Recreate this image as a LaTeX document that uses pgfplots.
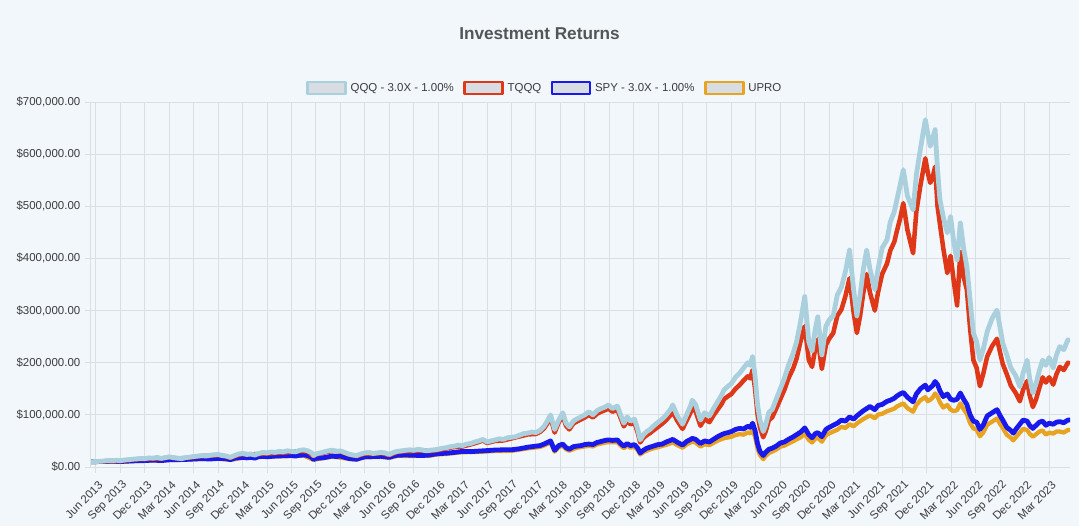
\documentclass[border=0pt]{standalone}
\usepackage{fontspec}
\setmainfont{Liberation Sans}
\usepackage{pgfplots}
\pgfplotsset{compat=1.18}
\definecolor{bgcol}{RGB}{242,247,252}
\definecolor{gridcol}{RGB}{218,223,229}
\definecolor{legfill}{RGB}{216,221,227}
\definecolor{labcol}{RGB}{60,60,60}
\definecolor{titlecol}{RGB}{85,85,85}
\definecolor{qqqcol}{RGB}{170,208,222}
\definecolor{tqqqcol}{RGB}{222,56,24}
\definecolor{spycol}{RGB}{25,25,235}
\definecolor{uprocol}{RGB}{232,163,32}
\begin{document}
\begin{tikzpicture}
\fill[bgcol] (-68.25pt,-44.25pt) rectangle (741pt,350.25pt);
\begin{axis}[
  at={(0,0)}, anchor=south west,
  scale only axis, width=734.25pt, height=273.75pt,
  xmin=4.39, xmax=124.56, ymin=0, ymax=700,
  axis x line*=bottom, axis y line*=left,
  axis line style={draw=gridcol, line width=0.75pt},
  grid=major, grid style={draw=gridcol, line width=0.75pt},
  tick align=outside, major tick length=4.5pt,
  tick style={draw=gridcol, line width=0.75pt},
  xtick={5,8,...,122},
  xticklabels={Jun 2013,Sep 2013,Dec 2013,Mar 2014,Jun 2014,Sep 2014,Dec 2014,Mar 2015,Jun 2015,Sep 2015,Dec 2015,Mar 2016,Jun 2016,Sep 2016,Dec 2016,Mar 2017,Jun 2017,Sep 2017,Dec 2017,Mar 2018,Jun 2018,Sep 2018,Dec 2018,Mar 2019,Jun 2019,Sep 2019,Dec 2019,Mar 2020,Jun 2020,Sep 2020,Dec 2020,Mar 2021,Jun 2021,Sep 2021,Dec 2021,Mar 2022,Jun 2022,Sep 2022,Dec 2022,Mar 2023},
  ytick={0,100,...,700},
  yticklabels={\$0.00,\$100{,}000.00,\$200{,}000.00,\$300{,}000.00,\$400{,}000.00,\$500{,}000.00,\$600{,}000.00,\$700{,}000.00},
  xticklabel style={rotate=45, anchor=east, xshift=0.5pt, yshift=-8pt, font=\fontsize{8.6}{10}\selectfont, text=labcol},
  yticklabel style={font=\fontsize{8.6}{10}\selectfont, text=labcol},
  legend columns=4, reverse legend,
  legend style={at={(0.4645,1.038)}, anchor=center, draw=none, fill=none,
    font=\fontsize{8.6}{10}\selectfont, text=labcol,
    nodes={inner sep=2.7pt},
    /tikz/every even column/.append style={column sep=4.5pt}},
  legend image code/.code={\draw[#1,line width=1.9pt,fill=legfill] (0pt,-4.5pt) rectangle (28.5pt,4.5pt);},
  every axis plot/.append style={line join=round, mark=none},
]
% UPRO
\addplot[uprocol, line width=3.2pt] coordinates {
(4.4,9.8) (6,10.3) (8,10.2) (10,11.6) (12,12.8) (14,13.4) (16,14) (18,15.5) (20,16) (21.5,13.6) (23,17.8) (25,19.3) (27,20.2) (29,21.1) (30.5,22) (31.7,13.7) (33,17.2) (34,20) (36,15.7) (37,14.2) (38,18.6) (40,19.5) (41,17.5) (42,21.4) (44,21.3) (46,21.8) (47,24.2) (48,25.1) (50,28.4) (52,28.9) (54,30.7) (56,31) (58,35.7) (59.5,38.5) (60,41.3) (60.8,46.8) (61.3,29.5) (61.8,38) (62.3,40.7) (62.7,34) (63.1,31.2) (64,36.8) (65,39.5) (65.5,40.4) (66,39.5) (66.5,43.2) (67.5,46.8) (67.9,47.6) (69,47.6) (69.4,41) (69.8,36.3) (70.2,40.8) (70.6,37.1) (71.1,38.8) (71.5,32.3) (71.8,24) (72.2,28.6) (73,33.9) (74,38.2) (75,42.5) (75.8,47) (76.3,42.5) (77,36.9) (77.5,43.3) (78.2,48.5) (78.6,46.8) (79.2,39.3) (79.7,43.7) (80.3,42) (80.8,46.2) (81.3,50.5) (82.1,55.3) (83,58) (83.5,61.2) (84,63) (84.5,62) (85,66.3) (85.3,64.6) (85.6,70) (85.9,58) (86.2,36) (86.5,23) (86.9,15) (87.2,21) (87.6,27) (88,29.5) (88.5,33.5) (89,39) (89.5,41) (90,45) (90.6,49.5) (91,53) (91.5,57) (92,64) (92.5,52) (92.9,47) (93.3,54.5) (93.6,56) (94.1,48.5) (94.6,61) (95,64.5) (95.5,68) (96,71.5) (96.5,77) (97,75) (97.5,82) (98,78) (98.4,83.5) (98.8,88) (99.2,92) (99.6,95.5) (100,99) (100.6,93.5) (101,100.5) (101.5,102) (102.1,107) (102.5,109) (103,112) (103.3,116) (103.7,119) (104.1,122) (104.6,113) (105.3,106) (105.7,119) (106.2,128) (106.8,134) (107.1,126) (107.4,129) (107.7,133) (108,141) (108.3,135) (108.6,124) (109,114) (109.5,119) (109.9,110) (110.3,107) (110.7,109) (111.1,122) (111.5,111) (111.9,102) (112.3,84) (112.7,74) (113.1,72) (113.5,59) (113.9,66) (114.4,81) (115,87) (115.6,93) (116,82) (116.3,75) (116.8,62) (117.3,56) (117.6,51) (117.9,57) (118.4,66) (118.8,73) (119.3,71) (119.6,64) (120,58) (120.4,63) (120.8,68) (121.2,70) (121.6,62) (122,66) (122.5,64) (122.9,68) (123.3,68) (123.8,66) (124.3,71) (124.56,71)
};
\addlegendentry{UPRO}
% SPY - 3.0X - 1.00%
\addplot[spycol, line width=3.6pt] coordinates {
(4.4,10) (5,10.3) (6,10.6) (7,11.2) (8,10.5) (9,11.3) (10,12) (11,12.3) (12,13.2) (13,12.3) (14,13.8) (15,14) (16,14.5) (17,15.3) (18,16) (19,15.3) (20,16.5) (21,15.8) (21.5,14.2) (22,16.8) (23,18.5) (23.5,17.5) (24,18.6) (24.5,17) (25,20) (25.5,20.5) (26,19.5) (27,21) (28,21.5) (29,22) (29.5,21) (30,22.5) (30.5,23) (31,22) (31.5,18) (31.7,14.5) (32,16.5) (33,18) (34,21) (34.5,20) (35,21) (35.5,18.5) (36,16.5) (36.5,15.5) (37,15) (37.5,17.5) (38,19.5) (39,20) (40,20.5) (41,18.5) (41.5,21) (42,22.5) (43,23) (44,22.5) (45,22) (46,23) (46.5,24.5) (47,25.5) (48,26.5) (49,28) (50,30) (51,29.5) (52,30.5) (53,31.5) (54,32.5) (55,33) (56,33) (57,35) (58,38) (59,40) (59.5,41) (60,44) (60.8,50) (61.3,32) (61.8,41) (62.3,44) (62.7,37) (63.1,34) (63.6,39) (64,40) (64.5,41) (65,43) (65.5,44) (66,43) (66.5,47) (67,49) (67.5,51) (67.9,52) (68.4,51) (69,52) (69.4,45) (69.8,40) (70.2,45) (70.6,41) (71.1,43) (71.5,36) (71.8,27) (72.2,32) (72.6,36) (73,38) (73.4,40) (74,43) (74.5,44) (75,48) (75.5,51) (75.8,53) (76.3,48) (77,42) (77.5,49) (78,53) (78.2,55) (78.6,53) (79.2,45) (79.7,50) (80.3,48) (80.8,53) (81.3,58) (81.8,62) (82.1,64) (82.6,66) (83,68) (83.5,72) (84,74) (84.5,73) (85,78) (85.3,76) (85.6,84) (85.9,70) (86.2,45) (86.5,30) (86.9,22) (87.2,28) (87.6,34) (88,36) (88.5,40) (89,46) (89.5,48) (90,53) (90.6,58) (91,62) (91.5,67) (92,75) (92.5,62) (92.9,56) (93.3,64) (93.6,66) (94.1,58) (94.6,72) (95,76) (95.5,80) (96,84) (96.5,90) (97,88) (97.5,96) (98,92) (98.4,98) (98.8,103) (99.2,108) (99.6,112) (100,116) (100.6,110) (101,118) (101.5,120) (102.1,126) (102.5,128) (103,132) (103.3,136) (103.7,140) (104.1,143) (104.6,134) (105.3,125) (105.7,140) (106.2,150) (106.8,157) (107.1,148) (107.4,152) (107.7,156) (108,164) (108.3,158) (108.6,146) (109,135) (109.5,140) (109.9,130) (110.3,128) (110.7,130) (111.1,142) (111.5,130) (111.9,120) (112.3,100) (112.7,88) (113.1,86) (113.5,72) (113.9,80) (114.4,98) (115,104) (115.6,110) (116,98) (116.3,90) (116.8,76) (117.3,70) (117.6,65) (117.9,72) (118.4,82) (118.8,90) (119.3,88) (119.6,80) (120,74) (120.4,80) (120.8,86) (121.2,88) (121.6,80) (122,84) (122.5,82) (122.9,86) (123.3,87) (123.8,85) (124.3,90) (124.56,90)
};
\addlegendentry{SPY - 3.0X - 1.00\%}
% TQQQ
\addplot[tqqqcol, line width=3.4pt] coordinates {
(4.4,9.8) (5,10.1) (6,11) (7,11.5) (8,11.5) (9,13.4) (10,14.9) (11,15.4) (12,16.3) (13,15.8) (14,18.7) (15,16.3) (16,17.3) (17,19.2) (18,21.1) (19,21.6) (20,23) (21,20.2) (21.5,17.8) (22,21.1) (23,25) (24,24) (25,25) (26,25.9) (27,26.9) (28,27.8) (29,28.8) (30,30.7) (31,29.8) (31.7,21) (32,24) (33,27.8) (34,30.7) (35,29.8) (36,24) (37,21.1) (38,25.9) (39,25) (40,26.9) (41,23) (42,28.8) (43,30.7) (44,30.7) (45,31.7) (46,30.7) (47,32.6) (48,35.5) (49,38.4) (50,39.4) (51,43.2) (52,48) (52.5,50.9) (53,46) (54,49.9) (55,50.9) (56,54.7) (57,58.6) (58,62.4) (59,63.4) (59.5,67.2) (60,74) (60.4,83.5) (60.8,95) (61.3,66) (61.8,85.5) (62.3,98) (62.7,79) (63.1,72) (63.6,83.5) (64,87) (64.5,91) (65,95) (65.5,100) (66,95) (66.5,102) (67,106) (67.5,109) (67.9,112) (68.4,106) (69,110) (69.4,94) (69.8,78) (70.2,89) (70.6,82) (71.1,85) (71.5,66) (71.8,47) (72.2,56) (72.6,61) (73,65) (73.4,70) (74,77) (74.5,83) (75,90) (75.5,99) (75.8,107) (76.3,90) (77,73) (77.5,89) (78,105) (78.2,114) (78.6,107) (79.2,79) (79.7,92) (80.3,86) (80.8,99) (81.3,110) (81.8,121) (82.1,130) (82.6,136) (83,140) (83.5,150) (84,157) (84.5,166) (85,174) (85.3,170) (85.6,186) (85.9,150) (86.2,102) (86.5,76) (86.9,57) (87.2,68) (87.6,90) (88,95) (88.5,112) (89,130) (89.5,148) (90,170) (90.6,190) (91,208) (91.5,242) (92,270) (92.5,205) (92.9,192) (93.3,228) (93.6,245) (94.1,188) (94.6,234) (95,246) (95.5,257) (96,290) (96.5,302) (97,328) (97.5,362) (98,296) (98.4,257) (98.8,290) (99.2,335) (99.6,370) (100,335) (100.6,300) (101,335) (101.5,370) (102.1,390) (102.5,415) (103,432) (103.3,452) (103.7,476) (104.1,506) (104.6,455) (105.3,410) (105.7,490) (106.2,540) (106.8,592) (107.1,565) (107.4,545) (107.7,555) (108,576) (108.3,500) (108.6,465) (109,420) (109.5,372) (109.9,405) (110.3,355) (110.7,310) (111.1,412) (111.5,365) (111.9,340) (112.3,265) (112.7,205) (113.1,190) (113.5,155) (113.9,178) (114.4,212) (115,232) (115.6,246) (116,218) (116.3,198) (116.8,178) (117.3,156) (117.9,142) (118.4,126) (118.8,148) (119.3,165) (119.6,138) (120,115) (120.4,130) (120.8,152) (121.2,172) (121.6,162) (122,172) (122.5,158) (122.9,178) (123.3,192) (123.8,186) (124.3,200) (124.56,198)
};
\addlegendentry{TQQQ}
% QQQ - 3.0X - 1.00%
\addplot[qqqcol, line width=3.6pt] coordinates {
(4.4,10) (5,10.5) (5.5,11) (6,11.5) (6.5,12.5) (7,12) (7.5,13) (8,12) (8.5,13.5) (9,14) (9.5,15) (10,15.5) (10.5,16.5) (11,16) (11.5,17.5) (12,17) (12.5,18.5) (13,16.5) (13.5,18) (14,19.5) (14.5,18) (15,17) (15.5,16) (16,18) (16.5,19) (17,20) (17.5,21) (18,22) (18.5,21) (19,22.5) (19.5,23.5) (20,24) (20.5,22) (21,21) (21.5,18.5) (22,22) (22.5,25) (23,26) (23.5,24) (24,25) (24.5,23) (25,26) (25.5,28) (26,27) (26.5,29) (27,28) (27.5,30) (28,29) (28.5,31) (29,30) (29.5,29) (30,32) (30.5,33) (31,31) (31.5,27) (31.7,22) (32,25) (32.5,27) (33,29) (33.5,31) (34,32) (34.5,30) (35,31) (35.5,28) (36,25) (36.5,23) (37,22) (37.5,25) (38,27) (38.5,28) (39,26) (39.5,27) (40,28) (40.5,27) (41,24) (41.5,28) (42,30) (42.5,31) (43,32) (43.5,33) (44,32) (44.5,34) (45,33) (45.5,31) (46,32) (46.5,33) (47,34) (47.5,36) (48,37) (48.5,39) (49,40) (49.5,42) (50,41) (50.5,44) (51,45) (51.5,48) (52,50) (52.5,53) (53,48) (53.5,50) (54,52) (54.5,54) (55,53) (55.5,56) (56,57) (56.5,58) (57,61) (57.5,64) (58,65) (58.5,67) (59,66) (59.5,70) (60,78) (60.4,88) (60.8,100) (61.3,72) (61.8,90) (62.3,104) (62.7,84) (63.1,77) (63.6,88) (64,92) (64.5,96) (65,100) (65.5,106) (66,100) (66.5,108) (67,112) (67.5,115) (67.9,119) (68.4,112) (69,117) (69.4,100) (69.8,84) (70.2,96) (70.6,88) (71.1,92) (71.5,72) (71.8,52) (72.2,62) (72.6,68) (73,72) (73.4,78) (74,86) (74.5,92) (75,100) (75.5,110) (75.8,119) (76.3,100) (77,82) (77.5,100) (78,118) (78.2,128) (78.6,120) (79.2,90) (79.7,104) (80.3,98) (80.8,112) (81.3,125) (81.8,138) (82.1,148) (82.6,155) (83,160) (83.5,172) (84,180) (84.5,190) (85,200) (85.3,195) (85.6,212) (85.9,175) (86.2,120) (86.5,90) (86.9,68) (87.2,80) (87.6,105) (88,110) (88.5,130) (89,150) (89.5,170) (90,195) (90.6,219) (91,240) (91.5,280) (92,327) (92.5,240) (92.9,222) (93.3,265) (93.6,288) (94.1,215) (94.6,270) (95,282) (95.5,290) (96,330) (96.5,345) (97,375) (97.5,416) (98,340) (98.4,290) (98.8,330) (99.2,380) (99.6,416) (100,380) (100.6,340) (101,380) (101.5,420) (102.1,436) (102.5,470) (103,490) (103.3,512) (103.7,540) (104.1,570) (104.6,520) (105.3,493) (105.7,560) (106.2,610) (106.8,666) (107.1,640) (107.4,615) (107.7,630) (108,647) (108.3,570) (108.6,512) (109,480) (109.5,449) (109.9,480) (110.3,430) (110.7,397) (111.1,468) (111.5,420) (111.9,384) (112.3,320) (112.7,257) (113.1,240) (113.5,205) (113.9,225) (114.4,260) (115,285) (115.6,301) (116,265) (116.3,238) (116.8,215) (117.3,190) (117.9,175) (118.4,154) (118.8,180) (119.3,205) (119.6,170) (120,142) (120.4,160) (120.8,185) (121.2,205) (121.6,195) (122,210) (122.5,190) (122.9,215) (123.3,231) (123.8,225) (124.3,244) (124.56,240)
};
\addlegendentry{QQQ - 3.0X - 1.00\%}
\end{axis}
\node[font=\fontsize{12.9}{15}\selectfont\bfseries, text=titlecol] at (336.4pt,324.75pt) {Investment Returns};
\pgfresetboundingbox
\useasboundingbox (-68.25pt,-44.25pt) rectangle (741pt,350.25pt);
\end{tikzpicture}
\end{document}
